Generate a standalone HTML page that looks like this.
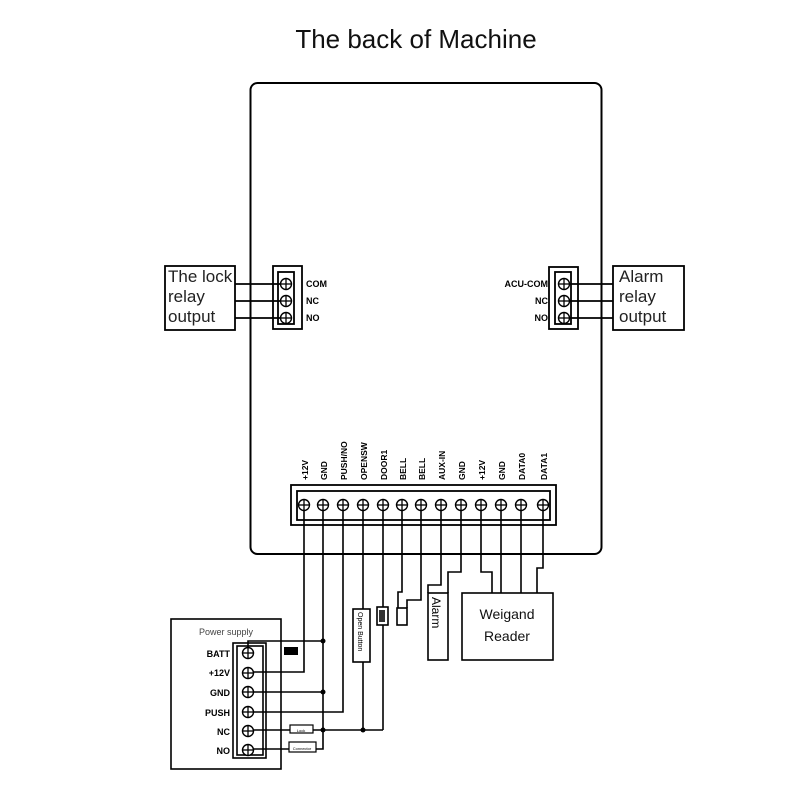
<!DOCTYPE html>
<html><head><meta charset="utf-8"><style>
html,body{margin:0;padding:0;background:#fff;}
svg{display:block;}
text{font-family:"Liberation Sans",sans-serif;}
</style></head><body>
<svg width="800" height="800" viewBox="0 0 800 800" xmlns="http://www.w3.org/2000/svg">
<defs>
<g id="scr"><circle r="5.5" fill="#fff" stroke="#000" stroke-width="1.4"/><line x1="-5.5" y1="0" x2="5.5" y2="0" stroke="#000" stroke-width="1.3"/><line x1="0" y1="-5.5" x2="0" y2="5.5" stroke="#000" stroke-width="1.3"/></g>
</defs>
<text x="416" y="48" font-size="26" text-anchor="middle" fill="#111">The back of Machine</text>
<rect x="250.5" y="83" width="351" height="471" rx="7" fill="none" stroke="#000" stroke-width="2"/>

<g fill="none" stroke="#000" stroke-width="1.8">
<rect x="165" y="266" width="70" height="64"/>
<line x1="235" y1="284" x2="286" y2="284"/><line x1="235" y1="301" x2="286" y2="301"/><line x1="235" y1="318" x2="286" y2="318"/>
<rect x="273" y="266" width="29" height="63"/><rect x="278" y="272" width="16" height="52"/>
<rect x="613" y="266" width="71" height="64"/>
<line x1="564" y1="284" x2="613" y2="284"/><line x1="564" y1="301" x2="613" y2="301"/><line x1="564" y1="318" x2="613" y2="318"/>
<rect x="549" y="267" width="29" height="62"/><rect x="555" y="272" width="16" height="52"/>
<rect x="291" y="485" width="265" height="40"/><rect x="297" y="491" width="253" height="29"/>
</g>
<use href="#scr" x="286" y="284"/><use href="#scr" x="286" y="301"/><use href="#scr" x="286" y="318"/>
<use href="#scr" x="564" y="284"/><use href="#scr" x="564" y="301"/><use href="#scr" x="564" y="318"/>
<g font-size="17" fill="#222">
<text x="168" y="282">The lock</text><text x="168" y="302">relay</text><text x="168" y="322">output</text>
<text x="619" y="282">Alarm</text><text x="619" y="302">relay</text><text x="619" y="322">output</text>
</g>
<g font-size="9" font-weight="bold" fill="#000">
<text x="306" y="287">COM</text><text x="306" y="304">NC</text><text x="306" y="321">NO</text>
<text x="548" y="287" text-anchor="end">ACU-COM</text><text x="548" y="304" text-anchor="end">NC</text><text x="548" y="321" text-anchor="end">NO</text>
</g>

<g fill="none" stroke="#000" stroke-width="1.6">
<polyline points="304,505 304,672 248,672"/>
<polyline points="323,505 323,749 248,749"/>
<polyline points="343,505 343,712 248,712"/>
<polyline points="363,505 363,609"/><polyline points="363,662 363,730"/>
<polyline points="383,505 383,607"/><polyline points="383,625 383,730"/>
<polyline points="402,505 402,592 398,592 398,608"/>
<polyline points="421,505 421,600 407,600 407,608"/>
<polyline points="441,505 441,585 428,585 428,593"/>
<polyline points="461,505 461,572 448,572 448,593"/>
<polyline points="481,505 481,572 492,572 492,593"/>
<polyline points="501,505 501,593"/>
<polyline points="521,505 521,593"/>
<polyline points="543,505 543,568 537,568 537,593"/>
<polyline points="248,653 248,641 323,641"/>
<line x1="248" y1="692" x2="323" y2="692"/>
<line x1="248" y1="730" x2="383" y2="730"/>
<rect x="171" y="619" width="110" height="150"/>
<rect x="233" y="643" width="33" height="115"/><rect x="237" y="646" width="26" height="109"/>
<rect x="353" y="609" width="17" height="53" fill="#fff"/>
<rect x="377" y="607" width="11" height="18" fill="#fff"/>
<rect x="397" y="608" width="10" height="17" fill="#fff"/>
<rect x="428" y="593" width="20" height="67" fill="#fff"/>
<rect x="462" y="593" width="91" height="67" fill="#fff"/>
<rect x="290" y="725" width="23" height="8" fill="#fff" stroke-width="1.2"/>
<rect x="289" y="742" width="27" height="10" fill="#fff" stroke-width="1.2"/>
</g>
<rect x="284" y="647" width="14" height="8" fill="#000"/>
<rect x="379" y="610" width="6" height="12" fill="#333"/>
<g fill="#000"><circle cx="323" cy="641" r="2.5"/><circle cx="323" cy="692" r="2.5"/><circle cx="323" cy="730" r="2.5"/><circle cx="363" cy="730" r="2.5"/></g>

<g><use href="#scr" x="304" y="505"/><use href="#scr" x="323" y="505"/><use href="#scr" x="343" y="505"/><use href="#scr" x="363" y="505"/><use href="#scr" x="383" y="505"/><use href="#scr" x="402" y="505"/><use href="#scr" x="421" y="505"/><use href="#scr" x="441" y="505"/><use href="#scr" x="461" y="505"/><use href="#scr" x="481" y="505"/><use href="#scr" x="501" y="505"/><use href="#scr" x="521" y="505"/><use href="#scr" x="543" y="505"/></g>
<g><use href="#scr" x="248" y="653"/><use href="#scr" x="248" y="673"/><use href="#scr" x="248" y="692"/><use href="#scr" x="248" y="712"/><use href="#scr" x="248" y="731"/><use href="#scr" x="248" y="750"/></g>

<g font-size="8.5" font-weight="bold" fill="#000">
<text transform="translate(308,480) rotate(-90)">+12V</text>
<text transform="translate(327,480) rotate(-90)">GND</text>
<text transform="translate(347,480) rotate(-90)">PUSH/NO</text>
<text transform="translate(367,480) rotate(-90)">OPENSW</text>
<text transform="translate(387,480) rotate(-90)">DOOR1</text>
<text transform="translate(406,480) rotate(-90)">BELL</text>
<text transform="translate(425,480) rotate(-90)">BELL</text>
<text transform="translate(445,480) rotate(-90)">AUX-IN</text>
<text transform="translate(465,480) rotate(-90)">GND</text>
<text transform="translate(485,480) rotate(-90)">+12V</text>
<text transform="translate(505,480) rotate(-90)">GND</text>
<text transform="translate(525,480) rotate(-90)">DATA0</text>
<text transform="translate(547,480) rotate(-90)">DATA1</text>
</g>
<g font-size="9" font-weight="bold" fill="#000" text-anchor="end">
<text x="230" y="657">BATT</text><text x="230" y="676">+12V</text><text x="230" y="696">GND</text><text x="230" y="716">PUSH</text><text x="230" y="735">NC</text><text x="230" y="754">NO</text>
</g>
<text x="226" y="635" font-size="9" fill="#444" text-anchor="middle">Power supply</text>
<text transform="translate(358,612) rotate(90)" font-size="7" fill="#000">Open Button</text>
<text transform="translate(432,597) rotate(90)" font-size="12" fill="#000">Alarm</text>
<text x="507" y="619" font-size="14" text-anchor="middle" fill="#111">Weigand</text>
<text x="507" y="641" font-size="14" text-anchor="middle" fill="#111">Reader</text>
<text x="301" y="732" font-size="4" text-anchor="middle">Lock</text>
<text x="302" y="750" font-size="4" text-anchor="middle">Connector</text>
</svg>
</body></html>
